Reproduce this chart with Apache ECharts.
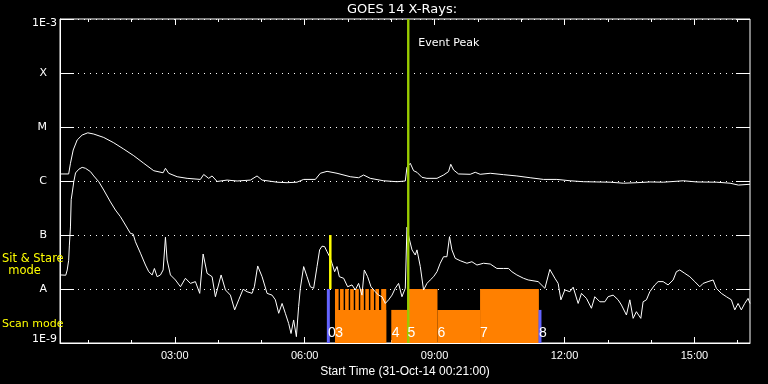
<!DOCTYPE html>
<html><head><meta charset="utf-8">
<script src="https://cdn.jsdelivr.net/npm/echarts@6/dist/echarts.min.js"></script>
<style>html,body{margin:0;padding:0;background:#000}#c{width:768px;height:384px}</style>
</head><body><div id="c"></div>
<script>
// ---- DATA (time in minutes since 00:00 on 31-Oct-14, flux in W/m^2) ----
const titleText = 'GOES 14 X-Rays:';
const xAxisName = 'Start Time (31-Oct-14 00:21:00)';
const xStart = 21, xEnd = 977;
const majorTickTimes = [180, 360, 540, 720, 900];
const minorTickTimes = [60, 120, 180, 240, 300, 360, 420, 480, 540, 600, 660, 720, 780, 840, 900, 960];
const yTickLabels = ['1E-9', 'A', 'B', 'C', 'M', 'X', '1E-3'];

const longTime = [
  22,33,35.5,39.3,44.8,51.7,59.5,67.8,81.6,95.5,
  109.3,123.2,137,150.9,163.9,167.1,171.6,183.3,197.1,215.5,
  220.1,227,231.7,238.7,252.5,266.4,284.8,294,301,321.7,
  335.6,349.4,358.6,374.8,381.7,391,404.8,423.2,434.7,441.6,
  450.9,469.3,487.9,499.4,501.7,506.3,510.9,515.6,522.5,529.4,
  543.3,552.4,559.3,562.4,566.3,573.2,589.4,596.3,603.2,617.1,
  635.5,654,672.4,690.9,709.4,727.8,746.3,764.8,783.2,801.6,
  820.2,838.6,857,884.7,903.3,931,949.4,960.9,977];
const longFlux = [
  1.35e-6,1.35e-6,2.13e-6,3.75e-6,5.75e-6,7.1e-6,7.8e-6,7.4e-6,6.4e-6,5.1e-6,
  3.9e-6,2.94e-6,2.13e-6,1.55e-6,1.42e-6,1.72e-6,1.39e-6,1.2e-6,1.12e-6,1.07e-6,
  1.32e-6,1.12e-6,1.24e-6,0.98e-6,1.04e-6,1.0e-6,1.04e-6,1.24e-6,1.04e-6,0.95e-6,
  0.93e-6,0.95e-6,1.07e-6,1.07e-6,1.39e-6,1.51e-6,1.39e-6,1.2e-6,1.15e-6,1.29e-6,
  1.12e-6,1.01e-6,0.97e-6,1.0e-6,1.79e-6,2.13e-6,1.55e-6,1.45e-6,1.17e-6,1.12e-6,
  1.12e-6,1.29e-6,1.49e-6,2.04e-6,1.6e-6,1.35e-6,1.33e-6,1.45e-6,1.33e-6,1.39e-6,
  1.31e-6,1.24e-6,1.15e-6,1.07e-6,1.07e-6,1.01e-6,0.97e-6,0.96e-6,0.95e-6,0.91e-6,
  0.93e-6,0.96e-6,0.95e-6,1.01e-6,0.96e-6,0.95e-6,0.91e-6,0.84e-6,0.87e-6];

const shortTime = [
  22,29,31,33,34,35.5,36.5,37.9,40.1,42.5,
  47,51.7,56.3,63.2,67.8,74.7,81.6,90.9,97.8,104.8,
  111.7,118.6,122.4,125.5,132.5,139.4,144,148.7,151.8,155.6,
  160.2,163.9,167.1,169.4,174,180.9,187.9,194.8,201.7,208.6,
  214.6,219.3,224.8,231.7,236.3,244.2,250.2,257.1,263,268.6,
  274.7,280.2,287.1,290.3,294.9,301,307.9,314.8,319.4,324,
  328.7,333.2,337.8,341.1,344.7,348.5,351.6,354,356.4,358.6,
  363.3,367.8,372.4,377.1,380.7,384,387.6,391,394.6,397.9,
  401.5,404.8,408,414,419.5,425.6,430.2,434.7,439.4,442.6,
  447.2,451.9,457.8,462.4,467.1,471.7,476.3,481,485.5,490.1,
  494.8,499.4,501.7,505.3,508.7,513.2,515.6,520.2,524.7,529.4,
  534,538.6,543.3,547.8,552.4,557.1,560.7,564,568.6,575.5,
  584.8,591.7,598.7,607.8,617.1,626.3,635.5,642.4,647.1,654,
  663.2,669.7,683.5,692.8,699.7,706.7,711.2,715,720.5,727.4,
  732,738.9,743.5,750.4,757.3,762,769,775.9,780.4,787.4,
  794.3,798.9,805.8,810.5,815.1,819.6,825.7,828.9,833.5,838.2,
  845.1,849.7,856.6,863.5,870.5,875,879.7,886.6,893.6,900.5,
  907.4,912,918.9,925.9,930.4,937.3,944.3,951.2,955.9,960.5,
  965,969.7,974.3,977];
const shortFlux = [
  1.82e-8,1.8e-8,2.25e-8,3.4e-8,6.5e-8,1.41e-7,4.5e-7,6.0e-7,9.7e-7,1.41e-6,
  1.65e-6,1.79e-6,1.72e-6,1.49e-6,1.24e-6,9.7e-7,6.8e-7,4.1e-7,2.9e-7,2.18e-7,
  1.53e-7,1.07e-7,1.04e-7,7.5e-8,4.6e-8,2.78e-8,2.09e-8,1.82e-8,2.4e-8,1.69e-8,
  1.82e-8,2.25e-8,9.1e-8,3.44e-8,1.82e-8,1.47e-8,1.1e-8,1.58e-8,1.27e-8,1.37e-8,
  8.3e-9,4.45e-8,1.95e-8,1.69e-8,7.2e-9,1.82e-8,9.6e-9,7.7e-9,4.1e-9,6.3e-9,
  9.9e-9,8.9e-9,8.3e-9,1.1e-8,2.67e-8,1.69e-8,8.3e-9,7.7e-9,6.3e-9,3.55e-9,
  5.4e-9,3.55e-9,2.3e-9,1.5e-9,2.67e-9,1.31e-9,4.7e-9,1.04e-8,9.6e-9,2.6e-8,
  1.69e-8,1.1e-8,1.03e-8,2.6e-8,5.3e-8,6.2e-8,6.1e-8,4.9e-8,3.96e-8,3.0e-8,
  2.09e-8,2.6e-8,1.69e-8,1.58e-8,1.1e-8,1.19e-8,9.6e-9,1.27e-8,7.7e-9,2.25e-8,
  1.69e-8,1.1e-8,8.9e-9,7.7e-9,7.2e-9,5.4e-9,6.3e-9,7.7e-9,1.03e-8,1.27e-8,
  7.2e-9,1.03e-8,1.39e-7,8.1e-8,5.3e-8,4.26e-8,5.3e-8,2.6e-8,9.6e-9,1.27e-8,
  1.47e-8,1.69e-8,2.09e-8,3.0e-8,3.96e-8,3.96e-8,9.3e-8,5.3e-8,3.7e-8,3.34e-8,
  3.0e-8,3.2e-8,2.78e-8,3.0e-8,2.9e-8,2.4e-8,2.4e-8,2.4e-8,2.09e-8,1.82e-8,
  1.58e-8,1.47e-8,1.37e-8,1.03e-8,2.3e-8,1.58e-8,1.27e-8,6.3e-9,9.6e-9,8.9e-9,
  1.08e-8,5.4e-9,8.3e-9,6.7e-9,4.4e-9,7.2e-9,5.8e-9,5.8e-9,7.2e-9,7.7e-9,
  6.3e-9,5.05e-9,3.3e-9,6.3e-9,2.86e-9,3.8e-9,2.86e-9,5.8e-9,6.3e-9,8.9e-9,
  1.19e-8,1.37e-8,1.37e-8,1.19e-8,1.47e-8,2.09e-8,2.25e-8,1.95e-8,1.69e-8,1.37e-8,
  1.1e-8,1.27e-8,1.37e-8,1.47e-8,1.03e-8,8.3e-9,7.2e-9,6.3e-9,4.1e-9,5.4e-9,
  4.1e-9,5.4e-9,6.7e-9,5.4e-9];

// observation periods
const scanLevel = 4.1e-9, sitLevel = 1e-8, floorLevel = 1e-9;
const scanStart = [402, 480, 544];
const scanEnd   = [473, 502.6, 603];
const sitStart  = [402, 409, 416, 423, 430, 437, 444, 451, 458, 466, 502.6, 603];
const sitEnd    = [407, 414, 421, 428, 435, 442, 449, 456, 463, 473, 544, 684.5];
const blueMarkTime = [392.8, 686];
const blueMarkTop  = [1e-8, 4.1e-9];
const yellowMarkTime = [395.5];
const yellowMarkBottom = [1e-8];
const yellowMarkTop = [1e-7];
const eventPeakTime = 503.5;
const eventPeakLabel = 'Event Peak';
const obsLabelText = ['0', '3', '4', '5', '6', '7', '8'];
const obsLabelTime = [392.3, 402.5, 480.5, 502.6, 544, 603, 684.5];
const obsLabelLevel = 1.5e-9;
const legendSit = ['Sit & Stare', 'mode'];
const legendScan = 'Scan mode';

// ---- CHART ----
const zip = (a, b) => a.map((v, i) => [v, b[i]]);
const pad = n => (n < 10 ? '0' : '') + n;
const fmtTime = v => pad(Math.floor(v / 60)) + ':' + pad(Math.round(v % 60));
const WHITE = '#ffffff';
const ORANGE = '#ff8000';

function xAx(extra) {
  return Object.assign({
    type: 'value', min: xStart, max: xEnd, splitLine: { show: false },
    axisLine: { show: false, onZero: false }, axisLabel: { show: false }
  }, extra);
}
const tickStyle = { color: WHITE, width: 1 };

const rectRender = (params, api) => {
  const s = api.coord([api.value(0), api.value(2)]);
  const e = api.coord([api.value(1), floorLevel]);
  return { type: 'rect', shape: { x: s[0], y: s[1], width: e[0] - s[0], height: e[1] - s[1] }, style: { fill: ORANGE } };
};
const vlineRender = (color, w) => (params, api) => {
  const t = api.coord([api.value(0), api.value(2)]);
  const b = api.coord([api.value(0), api.value(1)]);
  return { type: 'rect', shape: { x: t[0] - w / 2, y: t[1], width: w, height: b[1] - t[1] }, style: { fill: color } };
};

const labelFont = { color: WHITE, fontFamily: 'DejaVu Sans', fontSize: 11, lineHeight: 13 };

const option = {
  backgroundColor: '#000',
  animation: false,
  grid: { left: 60, right: 18, top: 19, bottom: 41, show: true, borderColor: WHITE, borderWidth: 1, backgroundColor: 'transparent' },
  graphic: [
    { type: 'text', x: 402, y: 10, style: { text: titleText, fill: WHITE, font: '13px "DejaVu Sans"', align: 'center', verticalAlign: 'middle' } },
    { type: 'text', x: 57, y: 23.5, style: { text: yTickLabels[6], fill: WHITE, font: '11px "DejaVu Sans"', align: 'right', verticalAlign: 'middle' } },
    { type: 'text', x: 2, y: 259, z: 100, style: { text: legendSit[0], fill: '#ffff00', font: '11.5px "DejaVu Sans"', align: 'left', verticalAlign: 'middle' } },
    { type: 'text', x: 24.5, y: 271, z: 100, style: { text: legendSit[1], fill: '#ffff00', font: '11.5px "DejaVu Sans"', align: 'center', verticalAlign: 'middle' } },
    { type: 'text', x: 2, y: 324, z: 100, style: { text: legendScan, fill: '#ffff00', font: '11px "DejaVu Sans"', align: 'left', verticalAlign: 'middle' } }
  ],
  xAxis: [
    xAx({ position: 'bottom', axisLine: { show: true, onZero: false, lineStyle: { color: WHITE } },
      axisTick: { inside: true, length: 6, customValues: majorTickTimes, lineStyle: tickStyle },
      axisLabel: { show: true, customValues: majorTickTimes, formatter: fmtTime, color: WHITE, fontFamily: 'Liberation Sans', fontSize: 11, margin: 7 },
      name: xAxisName, nameLocation: 'middle', nameGap: 16,
      nameTextStyle: { color: WHITE, fontFamily: 'Liberation Sans', fontSize: 12 } }),
    xAx({ position: 'bottom', axisTick: { inside: true, length: 3, customValues: minorTickTimes, lineStyle: tickStyle } }),
    xAx({ position: 'top', axisTick: { inside: true, length: 6, customValues: majorTickTimes, lineStyle: tickStyle } }),
    xAx({ position: 'top', axisTick: { inside: true, length: 3, customValues: minorTickTimes, lineStyle: tickStyle } })
  ],
  yAxis: [
    { type: 'log', logBase: 10, min: 1e-9, max: 1e-3, splitNumber: 6, position: 'left',
      axisLine: { show: true, onZero: false, lineStyle: { color: WHITE } },
      axisTick: { inside: true, length: 14, lineStyle: tickStyle },
      minorTick: { show: false },
      splitLine: { show: true, lineStyle: { color: WHITE, width: 1, type: [1, 5] } },
      axisLabel: {
        margin: 3,
        formatter: v => {
          const e = Math.round(Math.log10(v));
          const t = yTickLabels[e + 9];
          if (e === -3) return '';
          if (e === -9) return '{nt|' + t + '}{sb|\u200b}';
          return '{l|' + t + '}';
        },
        rich: {
          nt: Object.assign({ verticalAlign: 'top' }, labelFont),
          sb: { fontSize: 11, lineHeight: 19 },
          l: Object.assign({ padding: [0, 10, 0, 0] }, labelFont)
        }
      } },
    { type: 'log', logBase: 10, min: 1e-9, max: 1e-3, splitNumber: 6, position: 'right',
      axisLine: { show: false, onZero: false },
      axisTick: { inside: true, length: 14, lineStyle: tickStyle },
      minorTick: { show: false }, splitLine: { show: false }, axisLabel: { show: false } }
  ],
  series: [
    { type: 'custom', name: 'scan', z: 1, clip: true, renderItem: rectRender, encode: { x: [0, 1], y: 2 },
      data: scanStart.map((s, i) => [s, scanEnd[i], scanLevel]) },
    { type: 'custom', name: 'sit', z: 1, clip: true, renderItem: rectRender, encode: { x: [0, 1], y: 2 },
      data: sitStart.map((s, i) => [s, sitEnd[i], sitLevel]) },
    { type: 'line', name: 'long', z: 2, showSymbol: false, symbol: 'none', lineStyle: { color: WHITE, width: 1 },
      data: zip(longTime, longFlux) },
    { type: 'line', name: 'short', z: 2, showSymbol: false, symbol: 'none', lineStyle: { color: WHITE, width: 1 },
      data: zip(shortTime, shortFlux) },
    { type: 'custom', name: 'blue', z: 3, clip: true, renderItem: vlineRender('#6464ff', 3), encode: { x: 0, y: [1, 2] },
      data: blueMarkTime.map((t, i) => [t, floorLevel, blueMarkTop[i]]) },
    { type: 'custom', name: 'yellow', z: 3, clip: true, renderItem: vlineRender('#ffff00', 2.5), encode: { x: 0, y: [1, 2] },
      data: yellowMarkTime.map((t, i) => [t, yellowMarkBottom[i], yellowMarkTop[i]]) },
    { type: 'custom', name: 'event', z: 4, clip: false, encode: { x: 0, y: [1, 2] },
      data: [[eventPeakTime, 1e-9, 1e-3]],
      renderItem: (params, api) => {
        const t = api.coord([api.value(0), api.value(2)]);
        const b = api.coord([api.value(0), api.value(1)]);
        return { type: 'group', children: [
          { type: 'rect', shape: { x: t[0] - 1.2, y: t[1], width: 2.4, height: b[1] - t[1] }, style: { fill: '#99cc00' } },
          { type: 'text', x: t[0] + 10, y: t[1] + 24, style: { text: eventPeakLabel, fill: WHITE, font: '11px "DejaVu Sans"', align: 'left', verticalAlign: 'middle' } }
        ] };
      } },
    { type: 'custom', name: 'labels', z: 5, clip: false, encode: { x: 0, y: 1 },
      data: obsLabelTime.map((t, i) => [t, obsLabelLevel, i]),
      renderItem: (params, api) => {
        const p = api.coord([api.value(0), api.value(1)]);
        return { type: 'text', x: p[0], y: p[1], style: { text: obsLabelText[api.value(2)], fill: WHITE, font: '14px "Liberation Sans"', align: 'left', verticalAlign: 'middle' } };
      } }
  ]
};
const chart = echarts.init(document.getElementById('c'));
chart.setOption(option);
</script></body></html>
